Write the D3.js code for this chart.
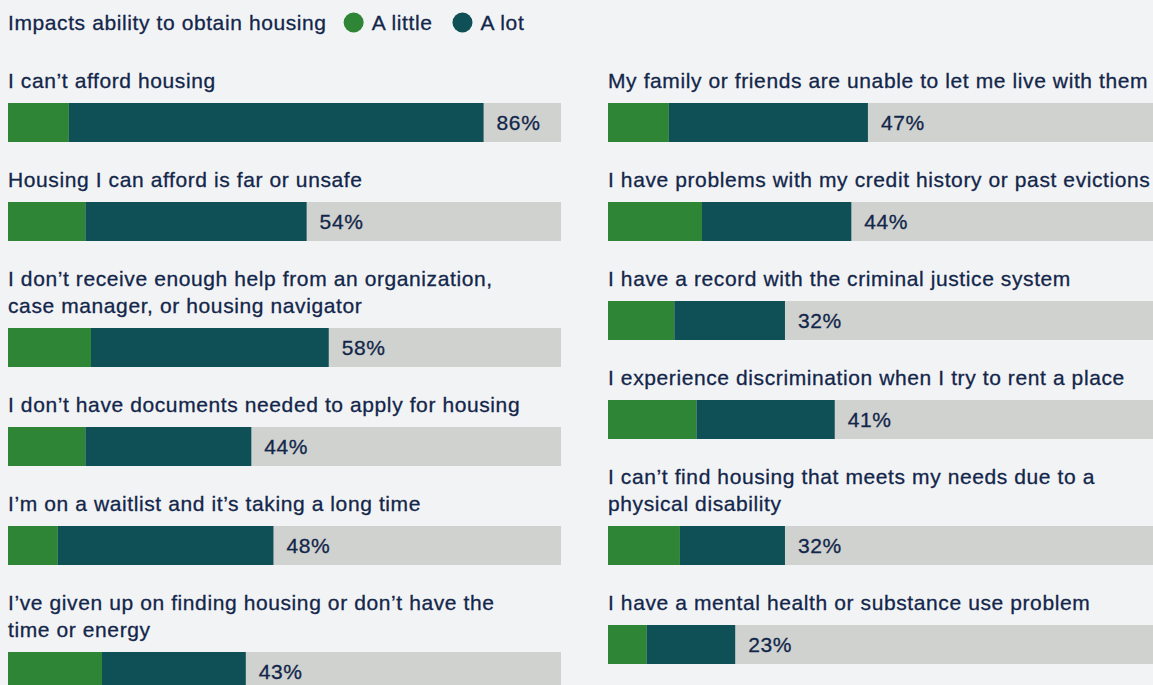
<!DOCTYPE html>
<html>
<head>
<meta charset="utf-8">
<script src="https://cdn.jsdelivr.net/npm/d3@7"></script>
<style>
  html, body { margin: 0; padding: 0; background: #f2f3f5; }
  svg { display: block; }
  text { font-family: "Liberation Sans", Arial, sans-serif; fill: #12264a; }
</style>
</head>
<body>
<svg id="chart" width="1153" height="685"></svg>
<script>
// ---------- DATA ----------
const seriesNames = ["A little", "A lot"];
const legendTitle = "Impacts ability to obtain housing";

const leftLabels = [
  ["I can’t afford housing"],
  ["Housing I can afford is far or unsafe"],
  ["I don’t receive enough help from an organization,", "case manager, or housing navigator"],
  ["I don’t have documents needed to apply for housing"],
  ["I’m on a waitlist and it’s taking a long time"],
  ["I’ve given up on finding housing or don’t have the", "time or energy"]
];
const leftLittle = [11, 14, 15, 14, 9, 17];
const leftLot    = [75, 40, 43, 30, 39, 26];

const rightLabels = [
  ["My family or friends are unable to let me live with them"],
  ["I have problems with my credit history or past evictions"],
  ["I have a record with the criminal justice system"],
  ["I experience discrimination when I try to rent a place"],
  ["I can’t find housing that meets my needs due to a", "physical disability"],
  ["I have a mental health or substance use problem"]
];
const rightLittle = [11, 17, 12, 16, 13, 7];
const rightLot    = [36, 27, 20, 25, 19, 16];

// ---------- STYLE ----------
const colors = { "A little": "#2e8535", "A lot": "#0f5057" };
const trackColor = "#d0d2d0";
const fontSize = 21;
const letterSpacing = 0.6;

const svg = d3.select("#chart");

function styleText(sel) {
  return sel.attr("font-size", fontSize)
    .attr("letter-spacing", letterSpacing)
    .attr("stroke", "#12264a")
    .attr("stroke-width", 0.3);
}

// ---------- LEGEND ----------
const legend = svg.append("g");
const lt = styleText(legend.append("text").attr("x", 8).attr("y", 30).text(legendTitle));
let lx = 8 + lt.node().getComputedTextLength() + 17;
seriesNames.forEach((name, i) => {
  legend.append("circle").attr("cx", lx + 10).attr("cy", 22.5).attr("r", 10).attr("fill", colors[name]);
  const t = styleText(legend.append("text").attr("x", lx + 28).attr("y", 30).text(name));
  lx = lx + 28 + t.node().getComputedTextLength() + 20;
});

// ---------- SCALES ----------
const x = d3.scaleLinear().domain([0, 100]).range([0, 553]);

const lineH = 27, gapToBar = 15, barH = 39, gapAfter = 45, firstBaseline = 88;

function drawColumn(x0, labels, little, lot) {
  const rows = labels.map((lines, i) => ({ lines, "A little": little[i], "A lot": lot[i] }));
  const stacked = d3.stack().keys(seriesNames)(rows);

  let base = firstBaseline;
  rows.forEach(r => {
    r.base = base;
    r.barY = base + (r.lines.length - 1) * lineH + gapToBar;
    base = r.barY + barH + gapAfter;
  });

  const g = svg.append("g").attr("transform", `translate(${x0},0)`);

  rows.forEach(r => {
    const t = styleText(g.append("text").attr("x", 0).attr("y", r.base));
    r.lines.forEach((ln, k) => {
      t.append("tspan").attr("x", 0).attr("y", r.base + k * lineH).text(ln);
    });
  });

  g.selectAll("rect.track").data(rows).join("rect")
    .attr("class", "track")
    .attr("x", x(0)).attr("y", d => d.barY)
    .attr("width", x(100) - x(0)).attr("height", barH)
    .attr("fill", trackColor);

  stacked.forEach(layer => {
    g.selectAll(null).data(layer).join("rect")
      .attr("x", d => x(d[0]))
      .attr("y", (d, i) => rows[i].barY)
      .attr("width", d => x(d[1]) - x(d[0]))
      .attr("height", barH)
      .attr("fill", colors[layer.key]);
  });

  rows.forEach(r => {
    const total = r["A little"] + r["A lot"];
    styleText(g.append("text")
      .attr("x", x(total) + 13)
      .attr("y", r.barY + barH / 2 + 7.5)
      .text(total + "%"));
  });
}

drawColumn(8, leftLabels, leftLittle, leftLot);
drawColumn(608, rightLabels, rightLittle, rightLot);
</script>
</body>
</html>
